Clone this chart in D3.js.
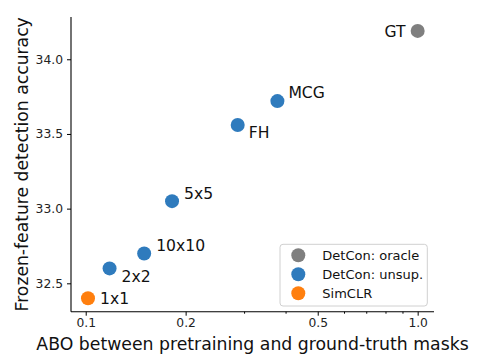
<!DOCTYPE html>
<html>
<head>
<meta charset="utf-8">
<script src="https://cdn.jsdelivr.net/npm/d3@7"></script>
<style>
  html, body { margin: 0; padding: 0; background: #fff; }
  svg { display: block; font-family: "DejaVu Sans", sans-serif; }
</style>
</head>
<body>
<svg id="chart" width="480" height="356"></svg>
<script>
// ---- data ----
const labels  = ["GT", "MCG", "FH", "5x5", "10x10", "2x2", "1x1"];
const aboVals = [1.0, 0.378, 0.287, 0.182, 0.150, 0.118, 0.1016];
const accVals = [34.19, 33.72, 33.56, 33.05, 32.70, 32.60, 32.40];
const groups  = ["DetCon: oracle", "DetCon: unsup.", "DetCon: unsup.", "DetCon: unsup.", "DetCon: unsup.", "DetCon: unsup.", "SimCLR"];
const legendNames = ["DetCon: oracle", "DetCon: unsup.", "SimCLR"];
const xTicks = [0.1, 0.2, 0.5, 1.0];
const xMinorTicks = [0.3, 0.4, 0.6, 0.7, 0.8, 0.9];
const yTicks = [32.5, 33.0, 33.5, 34.0];
const xTitle = "ABO between pretraining and ground-truth masks";
const yTitle = "Frozen-feature detection accuracy";

// ---- styles ----
const colorMap = {"DetCon: oracle": "#7f7f7f", "DetCon: unsup.": "#2f7bbd", "SimCLR": "#ff7f0e"};
const labelPlacement = {
  "GT":    {dx: -12, dy: 0,  anchor: "end"},
  "MCG":   {dx: 11,  dy: -9, anchor: "start"},
  "FH":    {dx: 11,  dy: 7,  anchor: "start"},
  "5x5":   {dx: 12,  dy: -8, anchor: "start"},
  "10x10": {dx: 12,  dy: -8, anchor: "start"},
  "2x2":   {dx: 12,  dy: 8,  anchor: "start"},
  "1x1":   {dx: 12,  dy: 0,  anchor: "start"}
};

const W = 480, H = 356;
const m = {left: 71, right: 46, top: 17, bottom: 44.3};
const svg = d3.select("#chart");

const x = d3.scaleLog().domain([0.0903, 1.12]).range([m.left, W - m.right]);
const y = d3.scaleLinear().domain([32.31, 34.283]).range([H - m.bottom, m.top]);

// axes
const xAxis = d3.axisBottom(x).tickValues(xTicks).tickFormat(d3.format(".1f")).tickSize(4).tickPadding(3);
const xMinor = d3.axisBottom(x).tickValues(xMinorTicks).tickFormat("").tickSize(2);
const yAxis = d3.axisLeft(y).tickValues(yTicks).tickFormat(d3.format(".1f")).tickSize(4).tickPadding(4);

const gx = svg.append("g").attr("transform", `translate(0,${H - m.bottom})`).call(xAxis);
svg.append("g").attr("transform", `translate(0,${H - m.bottom})`).call(xMinor).call(g => g.select(".domain").remove());
const gy = svg.append("g").attr("transform", `translate(${m.left},0)`).call(yAxis);

svg.selectAll(".domain").attr("stroke", "#000").attr("stroke-width", 1.1);
svg.selectAll(".tick line").attr("stroke", "#000").attr("stroke-width", 1);
svg.selectAll(".tick text").attr("font-size", 12.3).attr("fill", "#222").attr("font-family", "DejaVu Sans");
gx.selectAll(".domain").attr("d", `M${m.left},0H${W - m.right}`);
gy.selectAll(".domain").attr("d", `M0,${H - m.bottom}V${m.top}`);

// titles
svg.append("text").attr("x", (m.left + W - m.right) / 2).attr("y", 350)
  .attr("text-anchor", "middle").attr("font-size", 17.3).attr("fill", "#111").text(xTitle);
svg.append("text").attr("transform", `translate(27.5,${(m.top + H - m.bottom) / 2}) rotate(-90)`)
  .attr("text-anchor", "middle").attr("font-size", 17.2).attr("fill", "#111").text(yTitle);

// points
const pts = labels.map((l, i) => ({label: l, abo: aboVals[i], acc: accVals[i], group: groups[i]}));
svg.append("g").selectAll("circle").data(pts).join("circle")
  .attr("cx", d => x(d.abo)).attr("cy", d => y(d.acc)).attr("r", 7)
  .attr("fill", d => colorMap[d.group]);

svg.append("g").selectAll("text").data(pts).join("text")
  .attr("x", d => x(d.abo) + labelPlacement[d.label].dx)
  .attr("y", d => y(d.acc) + labelPlacement[d.label].dy)
  .attr("dy", "0.36em")
  .attr("text-anchor", d => labelPlacement[d.label].anchor)
  .attr("font-size", 15.6).attr("fill", "#111").text(d => d.label);

// legend
const lg = svg.append("g");
lg.append("rect").attr("x", 280).attr("y", 244.3).attr("width", 147.3).attr("height", 61.7)
  .attr("rx", 3).attr("fill", "#fff").attr("fill-opacity", 0.8).attr("stroke", "#d0d0d0").attr("stroke-width", 1);
const rows = lg.selectAll("g.row").data(legendNames).join("g").attr("class", "row")
  .attr("transform", (d, i) => `translate(0,${255.3 + i * 19})`);
rows.append("circle").attr("cx", 298.3).attr("cy", 0).attr("r", 7).attr("fill", d => colorMap[d]);
rows.append("text").attr("x", 322.3).attr("y", 0).attr("dy", "0.36em")
  .attr("font-size", 13).attr("fill", "#111").text(d => d);
</script>
</body>
</html>
